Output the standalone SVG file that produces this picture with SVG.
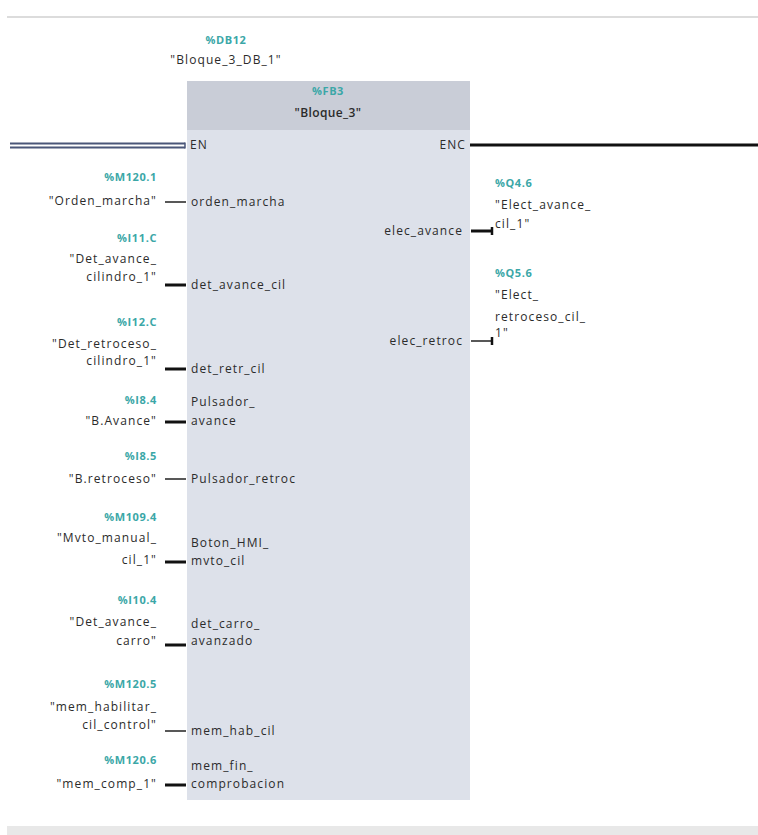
<svg xmlns="http://www.w3.org/2000/svg" width="758" height="835" viewBox="0 0 758 835">
<style>
text{font-family:"Open Sans","Liberation Sans",sans-serif;font-size:12px;fill:#2b2b2b;letter-spacing:1.1px}
.addr{fill:#3ba7a7;font-weight:bold;font-size:11px;letter-spacing:0.6px}
.r{text-anchor:end}
.m{text-anchor:middle}
.hd{font-weight:600;letter-spacing:0.4px}
.thin{stroke:#111;stroke-width:1.4;fill:none}
.thick{stroke:#111;stroke-width:3;fill:none}
</style>
<rect width="758" height="835" fill="#ffffff"/>
<line x1="7" y1="17" x2="758" y2="17" stroke="#dcdcdc" stroke-width="2"/>
<rect x="7" y="826" width="751" height="9" fill="#e8e8e8"/>

<g id="instance">
<text class="addr m" x="226" y="44">%DB12</text>
<text class="m" x="226" y="64">"Bloque_3_DB_1"</text>
</g>

<g id="block">
<rect x="187" y="81" width="283" height="719" fill="#dde1ea"/>
<rect x="187" y="81" width="283" height="49" fill="#c9cdd7"/>
<text class="addr m" x="328" y="95">%FB3</text>
<text class="m hd" x="328" y="117">"Bloque_3"</text>
<text x="190" y="149">EN</text>
<text class="r" x="466" y="149">ENC</text>
<text x="191" y="206">orden_marcha</text>
<text x="191" y="289">det_avance_cil</text>
<text x="191" y="373">det_retr_cil</text>
<text x="191" y="406">Pulsador_</text>
<text x="191" y="425">avance</text>
<text x="191" y="483">Pulsador_retroc</text>
<text x="191" y="547">Boton_HMI_</text>
<text x="191" y="565">mvto_cil</text>
<text x="191" y="628">det_carro_</text>
<text x="191" y="645">avanzado</text>
<text x="191" y="735">mem_hab_cil</text>
<text x="191" y="770">mem_fin_</text>
<text x="191" y="788">comprobacion</text>
<text class="r" x="463" y="235">elec_avance</text>
<text class="r" x="463" y="345">elec_retroc</text>
</g>

<g id="in1"><text class="addr r" x="157" y="181">%M120.1</text><text class="r" x="157" y="205">"Orden_marcha"</text></g>
<g id="in2"><text class="addr r" x="157" y="242">%I11.C</text><text class="r" x="157" y="263">"Det_avance_</text><text class="r" x="157" y="281">cilindro_1"</text></g>
<g id="in3"><text class="addr r" x="157" y="326">%I12.C</text><text class="r" x="157" y="348">"Det_retroceso_</text><text class="r" x="157" y="365">cilindro_1"</text></g>
<g id="in4"><text class="addr r" x="157" y="404">%I8.4</text><text class="r" x="157" y="425">"B.Avance"</text></g>
<g id="in5"><text class="addr r" x="157" y="460">%I8.5</text><text class="r" x="157" y="483">"B.retroceso"</text></g>
<g id="in6"><text class="addr r" x="157" y="521">%M109.4</text><text class="r" x="157" y="542">"Mvto_manual_</text><text class="r" x="157" y="564">cil_1"</text></g>
<g id="in7"><text class="addr r" x="157" y="604">%I10.4</text><text class="r" x="157" y="626">"Det_avance_</text><text class="r" x="157" y="645">carro"</text></g>
<g id="in8"><text class="addr r" x="157" y="688">%M120.5</text><text class="r" x="157" y="711">"mem_habilitar_</text><text class="r" x="157" y="729">cil_control"</text></g>
<g id="in9"><text class="addr r" x="157" y="764">%M120.6</text><text class="r" x="157" y="788">"mem_comp_1"</text></g>
<g id="out1"><text class="addr" x="495" y="187">%Q4.6</text><text x="495" y="209">"Elect_avance_</text><text x="495" y="228">cil_1"</text></g>
<g id="out2"><text class="addr" x="495" y="277">%Q5.6</text><text x="495" y="299">"Elect_</text><text x="495" y="321">retroceso_cil_</text><text x="495" y="337">1"</text></g>

<g id="connectors">
<line x1="10" y1="143.5" x2="185" y2="143.5" stroke="#4a5678" stroke-width="2"/>
<line x1="10" y1="147.5" x2="185" y2="147.5" stroke="#4a5678" stroke-width="2"/>
<line x1="185" y1="142.5" x2="185" y2="148.5" stroke="#4a5678" stroke-width="1.5"/>
<line x1="470" y1="145" x2="758" y2="145" class="thick"/>
<line x1="165" y1="202" x2="186" y2="202" class="thin"/>
<line x1="165" y1="285" x2="186" y2="285" class="thick"/>
<line x1="165" y1="369" x2="186" y2="369" class="thick"/>
<line x1="165" y1="422" x2="186" y2="422" class="thick"/>
<line x1="165" y1="479" x2="186" y2="479" class="thin"/>
<line x1="165" y1="562" x2="186" y2="562" class="thick"/>
<line x1="165" y1="645" x2="186" y2="645" class="thick"/>
<line x1="165" y1="731" x2="186" y2="731" class="thin"/>
<line x1="165" y1="785" x2="186" y2="785" class="thick"/>
<line x1="471" y1="231" x2="492" y2="231" class="thick"/>
<line x1="492" y1="227" x2="492" y2="235" stroke="#111" stroke-width="2.5"/>
<line x1="471" y1="341" x2="492" y2="341" class="thin"/>
<line x1="492" y1="337" x2="492" y2="345" stroke="#111" stroke-width="2.5"/>
</g>
</svg>
